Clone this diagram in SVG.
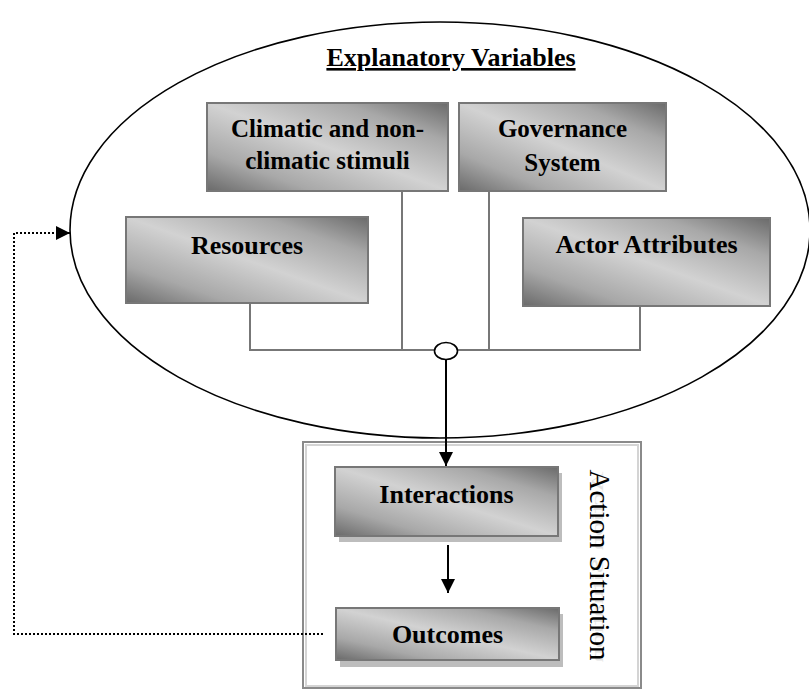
<svg xmlns="http://www.w3.org/2000/svg" width="809" height="693" viewBox="0 0 809 693">
<defs>
<linearGradient id="boxg" x1="0" y1="1" x2="1" y2="0">
<stop offset="0" stop-color="#6a6a6a"/>
<stop offset="0.22" stop-color="#a8a8a8"/>
<stop offset="0.5" stop-color="#d2d2d2"/>
<stop offset="0.78" stop-color="#a8a8a8"/>
<stop offset="1" stop-color="#6a6a6a"/>
</linearGradient>
<marker id="ah" viewBox="0 0 10 10" refX="10" refY="5" markerWidth="14" markerHeight="14" markerUnits="userSpaceOnUse" orient="auto">
<path d="M0,0 L10,5 L0,10 Z" fill="#000"/>
</marker>
</defs>
<style>
.box{fill:url(#boxg);stroke:#777;stroke-width:2}
.shadow{fill:#bdbdbd}
.tree{fill:none;stroke:#777;stroke-width:2}
.arrow{fill:none;stroke:#000;stroke-width:2}
</style>
<rect width="809" height="693" fill="#fff"/>

<g id="explanatory-variables">
<ellipse cx="440" cy="230" rx="370" ry="208" fill="none" stroke="#000" stroke-width="1.6"/>
<text x="451" y="66" font-family="Liberation Serif, Times New Roman, serif" font-weight="bold" font-size="26" text-anchor="middle" text-decoration="underline">Explanatory Variables</text>
</g>

<g id="action-situation">
<rect x="303" y="442" width="338" height="246" fill="none" stroke="#8a8a8a" stroke-width="2"/>
<rect x="306" y="445" width="332" height="241" fill="none" stroke="#d4d4d4" stroke-width="2"/>
<text transform="translate(603,567) rotate(90) scale(1,-0.6)" x="0" y="0" font-family="Liberation Serif, Times New Roman, serif" font-size="29" fill="#c8c8c8" text-anchor="middle" opacity="0.5">Action Situation</text>
<text transform="translate(590,565) rotate(90)" x="0" y="0" font-family="Liberation Serif, Times New Roman, serif" font-size="29" fill="#000" text-anchor="middle">Action Situation</text>
</g>

<g id="connectors">
<path class="tree" d="M250,304 V350 H640 V306 M402,191 V350 M489,191 V350"/>
<line class="arrow" x1="446" y1="359" x2="446" y2="466" marker-end="url(#ah)"/>
<line class="arrow" x1="448" y1="545" x2="448" y2="593" marker-end="url(#ah)"/>
<path d="M323,634 H14 V233 H70" fill="none" stroke="#000" stroke-width="2" stroke-dasharray="2,2" marker-end="url(#ah)"/>
<ellipse cx="446" cy="351" rx="11.5" ry="8.5" fill="#fff" stroke="#000" stroke-width="1.6"/>
</g>

<g font-family="Liberation Serif, Times New Roman, serif" font-weight="bold" text-anchor="middle" fill="#000">
<g id="climatic">
<rect class="box" x="207" y="103" width="241" height="88"/>
<text x="327.5" y="137" font-size="25">Climatic and non-</text>
<text x="327.5" y="169" font-size="25">climatic stimuli</text>
</g>

<g id="governance">
<rect class="box" x="459" y="103" width="207" height="88"/>
<text x="562.5" y="137" font-size="25">Governance</text>
<text x="562.5" y="171" font-size="25">System</text>
</g>

<g id="resources">
<rect class="box" x="126" y="217" width="242" height="86"/>
<text x="247" y="254" font-size="26">Resources</text>
</g>

<g id="actor-attributes">
<rect class="box" x="523" y="218" width="247" height="88"/>
<text x="646.5" y="253" font-size="26">Actor Attributes</text>
</g>

<g id="interactions">
<rect class="shadow" x="339" y="473" width="223" height="69"/>
<rect class="box" x="335" y="467" width="223" height="69"/>
<text x="446.5" y="503" font-size="26">Interactions</text>
</g>

<g id="outcomes">
<rect class="shadow" x="340" y="614" width="223" height="53"/>
<rect class="box" x="336" y="608" width="223" height="52"/>
<text x="447.5" y="643" font-size="26">Outcomes</text>
</g>
</g>
</svg>
